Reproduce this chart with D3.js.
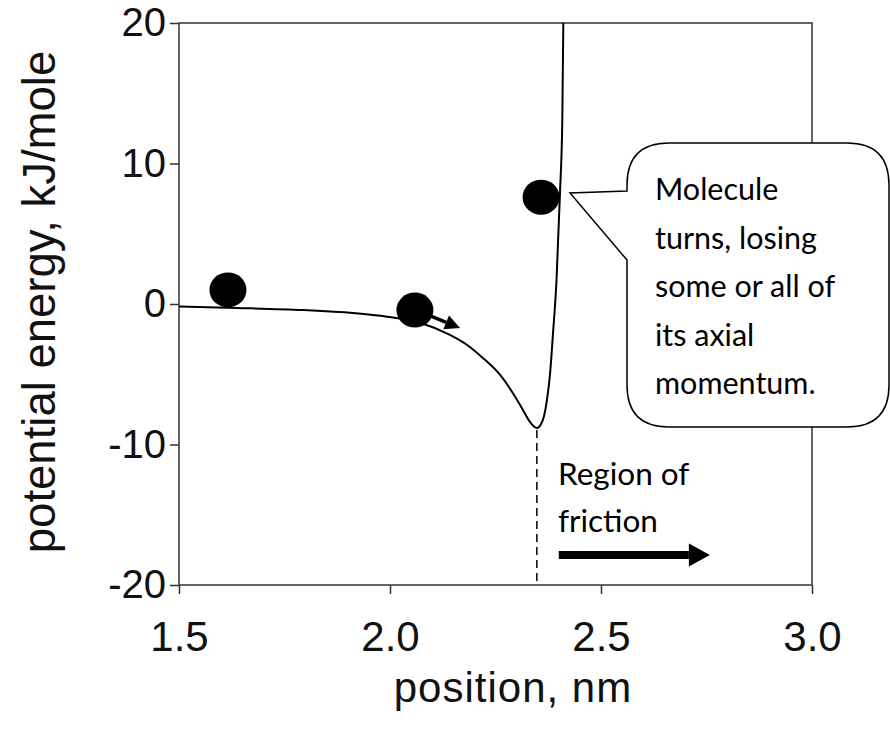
<!DOCTYPE html>
<html>
<head>
<meta charset="utf-8">
<script src="https://cdn.jsdelivr.net/npm/d3@7"></script>
<style>
  html, body { margin: 0; padding: 0; background: #fff; }
  svg { display: block; }
</style>
</head>
<body>
<svg id="chart" width="890" height="730"></svg>
<script>
// ---- data ----
const curveX = [1.500, 1.637, 1.794, 1.912, 1.993, 2.071, 2.142, 2.182, 2.220, 2.261, 2.291, 2.315, 2.332, 2.341, 2.348, 2.358, 2.365, 2.372, 2.379, 2.386, 2.3946, 2.4028, 2.4083, 2.4107];
const curveY = [-0.18, -0.28, -0.43, -0.64, -0.90, -1.33, -2.2, -2.9, -3.84, -5.05, -6.33, -7.54, -8.4, -8.72, -8.83, -8.54, -7.97, -6.83, -5.05, -2.21, 1.71, 7.90, 13.10, 20.0];
const ballX = [1.616, 2.059, 2.358];
const ballY = [1.0, -0.43, 7.6];
const xTicks = [1.5, 2.0, 2.5, 3.0];
const yTicks = [-20, -10, 0, 10, 20];
const xTitle = "position, nm";
const yTitle = "potential energy, kJ/mole";
const calloutLines = ["Molecule", "turns, losing", "some or all of", "its axial", "momentum."];
const regionLines = ["Region of", "friction"];
const frictionStartX = 2.348;   // dashed line at the well minimum
const frictionArrowX = [2.40, 2.758];
const frictionArrowY = -17.86;
const smallArrowX = [2.090, 2.166];
const smallArrowY = [-0.78, -1.71];

// ---- layout ----
const svg = d3.select("#chart");
const x = d3.scaleLinear().domain([1.5, 3.0]).range([179, 812]);
const y = d3.scaleLinear().domain([-20, 20]).range([585, 23]);
const axisColor = "#333";
const axisFont = "'Liberation Sans', Arial, sans-serif";

svg.append("defs").append("clipPath").attr("id", "plotclip")
  .append("rect").attr("x", x(1.5)).attr("y", y(20))
  .attr("width", x(3.0) - x(1.5)).attr("height", y(-20) - y(20));

// plot border
svg.append("rect")
  .attr("x", x(1.5)).attr("y", y(20))
  .attr("width", x(3.0) - x(1.5)).attr("height", y(-20) - y(20))
  .attr("fill", "none").attr("stroke", axisColor).attr("stroke-width", 1.5);

// axes
const xAxis = svg.append("g").attr("transform", `translate(0,${y(-20)})`)
  .call(d3.axisBottom(x).tickValues(xTicks).tickSize(9).tickSizeOuter(0).tickPadding(27).tickFormat(d3.format(".1f")));
const yAxis = svg.append("g").attr("transform", `translate(${x(1.5)},0)`)
  .call(d3.axisLeft(y).tickValues(yTicks).tickSize(9).tickSizeOuter(0).tickPadding(4).tickFormat(d => d));
[xAxis, yAxis].forEach(g => {
  g.select(".domain").remove();
  g.selectAll(".tick line").attr("stroke", axisColor).attr("stroke-width", 1.5);
  g.selectAll(".tick text").attr("fill", "#111")
    .style("font-family", axisFont).style("font-size", "40px");
});
xAxis.selectAll(".tick text").attr("dy", "0.71em").style("font-size", "42px");

// axis titles
svg.append("text").attr("x", 513).attr("y", 702).attr("text-anchor", "middle")
  .style("font-family", axisFont).style("font-size", "42px")
  .style("letter-spacing", "1px").attr("fill", "#111").text(xTitle);
svg.append("text").attr("transform", `translate(55,${302}) rotate(-90)`).attr("text-anchor", "middle")
  .style("font-family", axisFont).style("font-size", "45.5px")
  .attr("fill", "#111").text(yTitle);

// dashed line from minimum
const minIdx = d3.minIndex(curveY);
svg.append("line")
  .attr("x1", x(frictionStartX)).attr("x2", x(frictionStartX))
  .attr("y1", y(curveY[minIdx]) + 2).attr("y2", y(-20))
  .attr("stroke", "#000").attr("stroke-width", 1.5).attr("stroke-dasharray", "8,5");

// curve
const pts = curveX.map((d, i) => [d, curveY[i]]);
svg.append("path").datum(pts)
  .attr("clip-path", "url(#plotclip)")
  .attr("d", d3.line().x(d => x(d[0])).y(d => y(d[1])).curve(d3.curveMonotoneX))
  .attr("fill", "none").attr("stroke", "#000").attr("stroke-width", 2);

// balls
svg.selectAll("ellipse.ball").data(ballX.map((d, i) => [d, ballY[i]])).join("ellipse")
  .attr("class", "ball")
  .attr("cx", d => x(d[0])).attr("cy", d => y(d[1]))
  .attr("rx", 18.5).attr("ry", 17.5).attr("fill", "#000");

// arrows
function arrow(x1, y1, x2, y2, shaftW, headL, headW) {
  const ang = Math.atan2(y2 - y1, x2 - x1);
  const bx = x2 - headL * Math.cos(ang), by = y2 - headL * Math.sin(ang);
  svg.append("line").attr("x1", x1).attr("y1", y1).attr("x2", bx).attr("y2", by)
    .attr("stroke", "#000").attr("stroke-width", shaftW);
  const px = -Math.sin(ang) * headW / 2, py = Math.cos(ang) * headW / 2;
  svg.append("path").attr("d", `M${x2},${y2}L${bx + px},${by + py}L${bx - px},${by - py}Z`).attr("fill", "#000");
}
arrow(x(smallArrowX[0]), y(smallArrowY[0]), x(smallArrowX[1]), y(smallArrowY[1]), 3.5, 15, 15);
arrow(x(frictionArrowX[0]), y(frictionArrowY), x(frictionArrowX[1]), y(frictionArrowY), 8, 21, 23);

// region text
const textFont = "Lato, 'Open Sans', sans-serif";
regionLines.forEach((t, i) => {
  svg.append("text").attr("x", 558).attr("y", 485 + i * 47)
    .style("font-family", textFont).style("font-size", "31.5px").attr("fill", "#000").text(t);
});

// callout bubble
const bL = 627, bR = 889, bT = 143, bB = 427, r = 42;
const tipX = 570, tipY = 193;
const bubble = `M${bL},191 L${tipX},${tipY} L${bL},260 L${bL},${bB - r} Q${bL},${bB} ${bL + r},${bB} L${bR - r},${bB} Q${bR},${bB} ${bR},${bB - r} L${bR},${bT + r} Q${bR},${bT} ${bR - r},${bT} L${bL + r},${bT} Q${bL},${bT} ${bL},${bT + r} Z`;
svg.append("path").attr("d", bubble).attr("fill", "#fff").attr("stroke", "#000").attr("stroke-width", 1.5);
calloutLines.forEach((t, i) => {
  svg.append("text").attr("x", 655).attr("y", 200 + i * 48.5)
    .style("font-family", textFont).style("font-size", "30.5px").attr("fill", "#000").text(t);
});
</script>
</body>
</html>
